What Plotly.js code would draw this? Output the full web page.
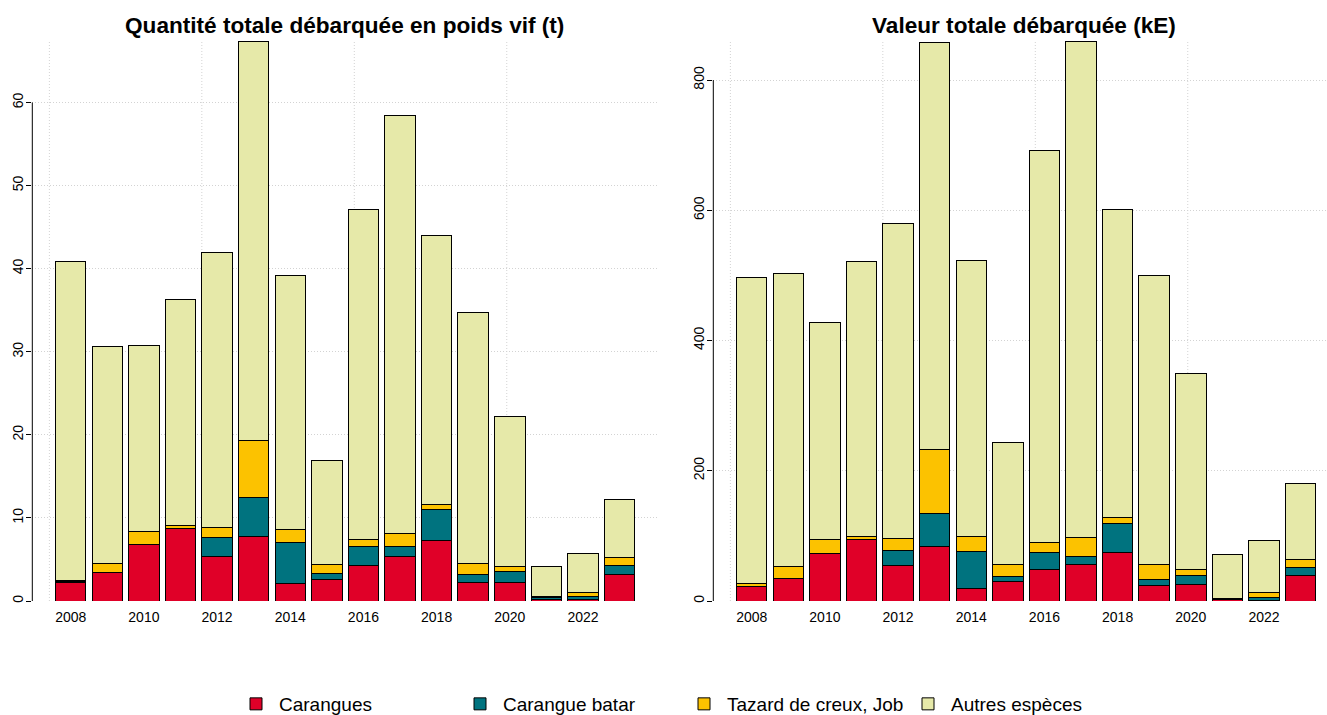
<!DOCTYPE html>
<html>
<head>
<meta charset="utf-8">
<script src="https://cdn.plot.ly/plotly-3.0.1.min.js"></script>
<style>
html,body{margin:0;padding:0;background:#fff;}
#chart{width:1327px;height:715px;}
</style>
</head>
<body>
<div id="chart"></div>
<script>
// ---------- DATA ----------
const years = [2008, 2009, 2010, 2011, 2012, 2013, 2014, 2015, 2016, 2017, 2018, 2019, 2020, 2021, 2022, 2023];
const seriesNames = ["Carangues", "Carangue batar", "Tazard de creux, Job", "Autres espèces"];
const seriesColors = ["#E00028", "#00737F", "#FCC200", "#E6E9A9"];

// Quantité totale débarquée en poids vif (t)
const qCarangues = [2.2, 3.4, 6.8, 8.7, 5.4, 7.8, 2.05, 2.6, 4.25, 5.3, 7.25, 2.25, 2.25, 0.2, 0.2, 3.15];
const qBatar     = [0.1, 0.0, 0.0, 0.0, 2.2, 4.65, 5.0, 0.75, 2.25, 1.2, 3.8, 0.9, 1.25, 0.25, 0.4, 1.1];
const qTazard    = [0.2, 1.1, 1.55, 0.4, 1.25, 6.9, 1.55, 1.05, 0.95, 1.65, 0.6, 1.4, 0.65, 0.05, 0.45, 0.95];
const qAutres    = [38.4, 26.1, 22.45, 27.2, 33.05, 48.05, 30.6, 12.55, 39.65, 50.25, 32.3, 30.15, 18.1, 3.7, 4.65, 7.0];

// Valeur totale débarquée (kE)
const vCarangues = [23, 35.3, 72.6, 93.7, 54, 83, 19, 29.6, 49, 56, 75, 23.5, 24.6, 2.6, 1.5, 39];
const vBatar     = [0, 0, 0, 0, 24, 52, 57, 8.3, 26, 13, 44.5, 10, 15.3, 1, 4, 12.8];
const vTazard    = [4.6, 17.9, 22, 6, 18, 98, 23, 17.4, 15, 29, 8, 23, 8.7, 0.5, 7.8, 12.3];
const vAutres    = [469.9, 449.8, 332.4, 422.3, 484, 625, 424, 187.7, 602, 762, 474.5, 444, 300.4, 67.9, 79.7, 116.9];

const qTicks = [0, 10, 20, 30, 40, 50, 60];
const vTicks = [0, 200, 400, 600, 800];
const labelYears = [2008, 2010, 2012, 2014, 2016, 2018, 2020, 2022];
const gridX = [0, 5, 10, 15];

const titleLeft = "Quantité totale débarquée en poids vif (t)";
const titleRight = "Valeur totale débarquée (kE)";

// ---------- LAYOUT HELPERS (R barplot geometry: width 1, space 0.2) ----------
const W = 1327, H = 715;
const barPos = years.map((y, i) => 0.7 + 1.2 * i);
const lastEdge = 1.2 * years.length;       // 19.2
const ext = 0.04 * (lastEdge - 0.2);
const xmin = 0.2 - ext, xmax = lastEdge + ext;
const labelPos = labelYears.map(y => barPos[years.indexOf(y)]);

const leftPx0 = 32.3, leftPx1 = 658;
const pxPerUnit = (leftPx1 - leftPx0) / (xmax - xmin);
const rightPx0 = 713.3;
const rightXmax = xmin + (W - rightPx0) / pxPerUnit;
const yDom = [1 - 601 / H, 1 - 41 / H];

function sumAt(arrs, i) { return arrs.reduce((s, a) => s + a[i], 0); }
const qSeries = [qCarangues, qBatar, qTazard, qAutres];
const vSeries = [vCarangues, vBatar, vTazard, vAutres];
const qMax = Math.max(...years.map((_, i) => sumAt(qSeries, i)));
const vMax = Math.max(...years.map((_, i) => sumAt(vSeries, i)));

const traces = [];
qSeries.forEach((vals, k) => {
  traces.push({
    type: 'bar', x: barPos, y: vals, width: 1, name: seriesNames[k],
    marker: {color: seriesColors[k], line: {color: '#000', width: 1}},
    xaxis: 'x', yaxis: 'y', showlegend: true, legendgroup: 'g' + k
  });
});
vSeries.forEach((vals, k) => {
  traces.push({
    type: 'bar', x: barPos, y: vals, width: 1, name: seriesNames[k],
    marker: {color: seriesColors[k], line: {color: '#000', width: 1}},
    xaxis: 'x2', yaxis: 'y2', showlegend: false, legendgroup: 'g' + k
  });
});

const FAM = 'Liberation Sans, Arial, sans-serif';
const tickFont = {family: FAM, size: 14, color: '#000'};
const GRIDCOL = '#d3d3d3';
const GRIDDASH = '1px,2px';

function xAxis(domain, range, anchor) {
  return {
    domain: domain, range: range, anchor: anchor,
    showgrid: false, zeroline: false, showline: false,
    tickmode: 'array', tickvals: labelPos, ticktext: labelYears.map(String),
    ticks: '', tickfont: tickFont, ticklabelstandoff: 6
  };
}
function yAxis(range, ticks, anchor) {
  return {
    domain: yDom, range: range, anchor: anchor,
    tickmode: 'array', tickvals: ticks, ticks: 'outside', ticklen: 5, tickwidth: 1, tickcolor: '#000',
    tickangle: -90, tickfont: tickFont, showline: false, zeroline: false,
    showgrid: true, gridcolor: GRIDCOL, griddash: GRIDDASH, gridwidth: 1, ticklabelstandoff: -2
  };
}

const xDomL = [leftPx0 / W, leftPx1 / W];
const xDomR = [rightPx0 / W, 1];

// R grid(): vertical dotted lines at the default axis ticks of the barplot
const shapes = [];
[['x', 'y'], ['x2', 'y2']].forEach(([xa, ya]) => {
  gridX.forEach(g => shapes.push({
    type: 'line', xref: xa, yref: ya + ' domain', x0: g, x1: g, y0: 0, y1: 1, layer: 'below',
    line: {color: GRIDCOL, width: 1, dash: GRIDDASH}
  }));
});
// R-style y axis line spanning first to last tick
shapes.push({type: 'line', xref: 'x domain', yref: 'y', x0: 0, x1: 0, y0: qTicks[0], y1: qTicks[qTicks.length - 1], line: {color: '#000', width: 1}});
shapes.push({type: 'line', xref: 'x2 domain', yref: 'y2', x0: 0, x1: 0, y0: vTicks[0], y1: vTicks[vTicks.length - 1], line: {color: '#000', width: 1}});

const layout = {
  width: W, height: H,
  margin: {l: 0, r: 0, t: 0, b: 0, pad: 0, autoexpand: false},
  paper_bgcolor: '#fff', plot_bgcolor: 'rgba(0,0,0,0)',
  barmode: 'stack', bargap: 0,
  font: {family: FAM, color: '#000'},
  xaxis: xAxis(xDomL, [xmin, xmax], 'y'),
  xaxis2: xAxis(xDomR, [xmin, rightXmax], 'y2'),
  yaxis: yAxis([0, qMax], qTicks, 'x'),
  yaxis2: yAxis([0, vMax], vTicks, 'x2'),
  showlegend: true,
  legend: {
    orientation: 'h', x: 233 / W, xanchor: 'left', y: 1 - 704 / H, yanchor: 'middle',
    font: {family: FAM, size: 19, color: '#000'}, itemwidth: 36,
    entrywidth: 173, entrywidthmode: 'pixels', traceorder: 'normal', bgcolor: 'rgba(0,0,0,0)'
  },
  annotations: [
    {text: titleLeft, xref: 'paper', yref: 'paper', x: 344 / W, y: 1 - 25 / H, xanchor: 'center', yanchor: 'middle',
     showarrow: false, font: {family: FAM, size: 22.6, weight: 700, color: '#000'}},
    {text: titleRight, xref: 'paper', yref: 'paper', x: 1024 / W, y: 1 - 25 / H, xanchor: 'center', yanchor: 'middle',
     showarrow: false, font: {family: FAM, size: 22.6, weight: 700, color: '#000'}}
  ],
  shapes: shapes
};

Plotly.newPlot('chart', traces, layout, {displayModeBar: false, staticPlot: true});
</script>
</body>
</html>
